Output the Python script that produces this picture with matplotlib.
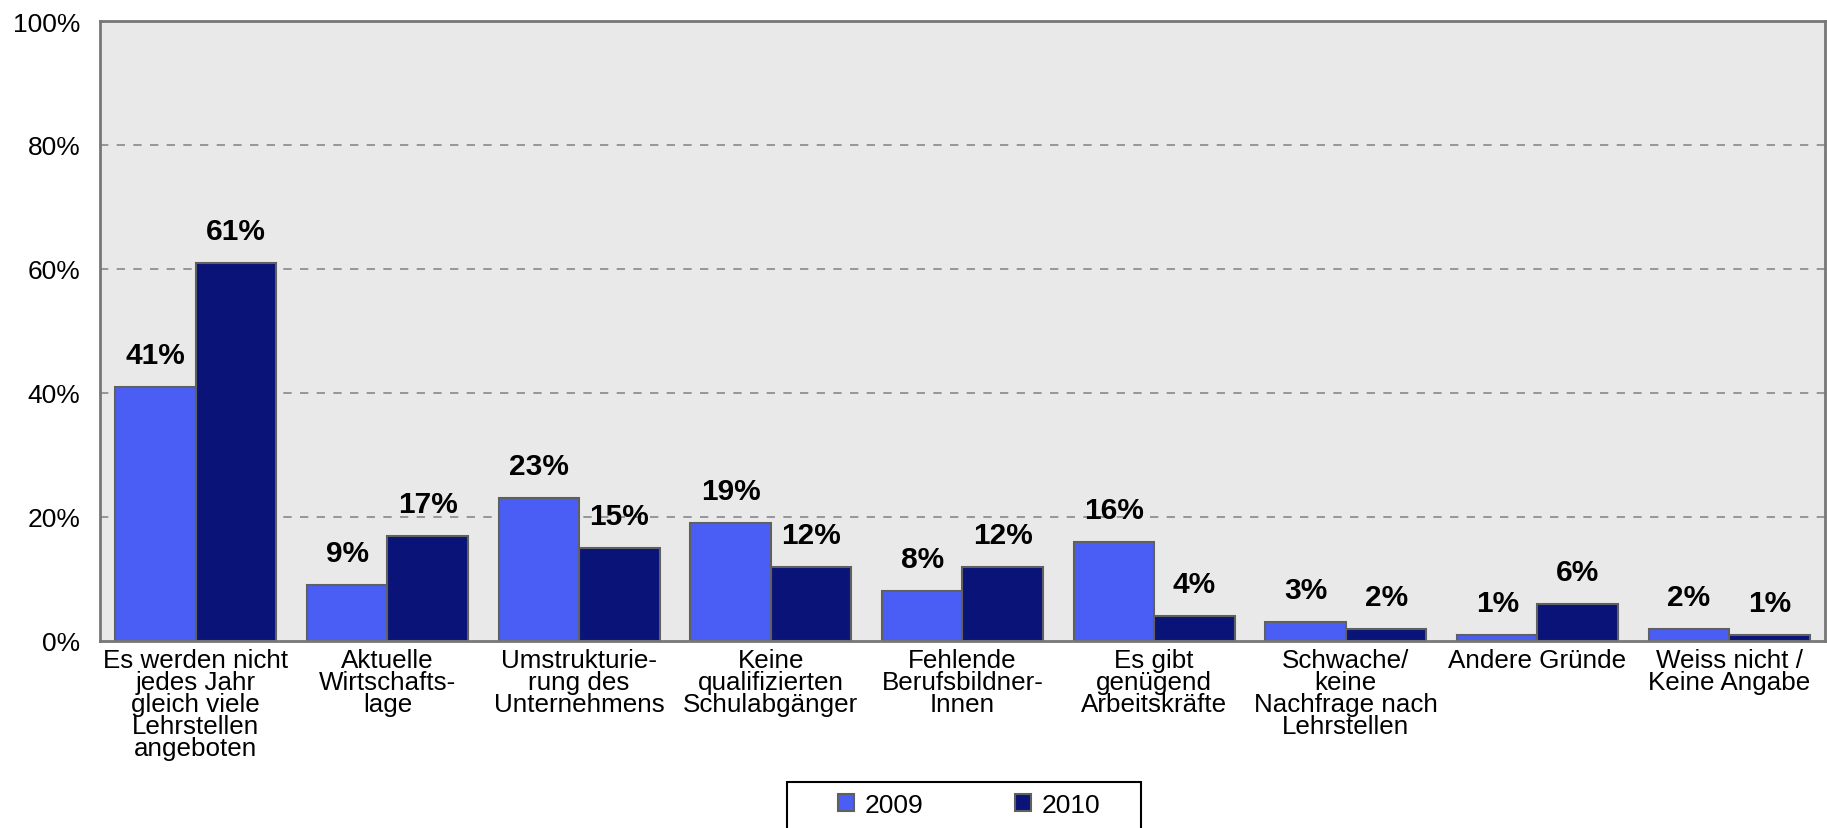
import numpy as np
import matplotlib
matplotlib.use("Agg")
import matplotlib.pyplot as plt
from matplotlib.patches import Rectangle
from matplotlib.ticker import FuncFormatter

plt.rcParams['font.family'] = ['Liberation Sans', 'DejaVu Sans']

# Daten
categories = [
    "Es werden nicht\njedes Jahr\ngleich viele\nLehrstellen\nangeboten",
    "Aktuelle\nWirtschafts-\nlage",
    "Umstrukturie-\nrung des\nUnternehmens",
    "Keine\nqualifizierten\nSchulabgänger",
    "Fehlende\nBerufsbildner-\nInnen",
    "Es gibt\ngenügend\nArbeitskräfte",
    "Schwache/\nkeine\nNachfrage nach\nLehrstellen",
    "Andere Gründe",
    "Weiss nicht /\nKeine Angabe",
]
years = ["2009", "2010"]
values_2009 = [41, 9, 23, 19, 8, 16, 3, 1, 2]
values_2010 = [61, 17, 15, 12, 12, 4, 2, 6, 1]
colors = ["#4A5EF5", "#0A1478"]

W, H = 1827, 829
fig = plt.figure(figsize=(W / 100, H / 100), dpi=100)
ax = fig.add_axes([100 / W, 1 - 642 / H, 1725 / W, 620 / H])
ax.set_facecolor("#E9E9E9")

x = np.arange(len(categories))
w = 0.42
for i, (vals, yr, c) in enumerate(zip([values_2009, values_2010], years, colors)):
    pos = x + (i - 0.5) * w
    bars = ax.bar(pos, vals, width=w, color=c, edgecolor="#606060",
                  linewidth=1.5, label=yr, zorder=3)
    for b, v in zip(bars, vals):
        ax.annotate(f"{v}%", (b.get_x() + b.get_width() / 2, v),
                    xytext=(0, 13), textcoords="offset points",
                    ha="center", va="bottom", fontsize=21.5, fontweight="bold")

ax.set_xlim(-0.5, len(categories) - 0.5)
ax.set_ylim(0, 100)
ax.set_yticks(range(0, 101, 20))
ax.yaxis.set_major_formatter(FuncFormatter(lambda v, p: f"{v:.0f}%"))
ax.set_xticks(x)
ax.set_xticklabels(categories, fontsize=18.7, linespacing=0.9)
ax.tick_params(axis="both", length=0)
ax.tick_params(axis="y", labelsize=19, pad=14)
ax.tick_params(axis="x", pad=5)

for y in range(20, 100, 20):
    ax.axhline(y, color="#888888", linestyle=(0, (5, 5)), linewidth=1.2, zorder=1)

for s in ax.spines.values():
    s.set_color("#777777")
    s.set_linewidth(2)
    s.set_zorder(4)

# Legende (Rahmen separat, unten abgeschnitten wie im Original)
fig.legend(loc="center", bbox_to_anchor=(969 / W, 1 - 806 / H), ncol=2,
           frameon=False, fontsize=19,
           handlelength=0.6, handleheight=0.6, handletextpad=0.4,
           columnspacing=3.5, borderpad=0)
fig.patches.append(Rectangle((787 / W, -0.02), 354 / W, (H - 783) / H + 0.02,
                             transform=fig.transFigure, fill=False,
                             edgecolor="black", linewidth=1.5))

fig.savefig("out.png", dpi=100)
